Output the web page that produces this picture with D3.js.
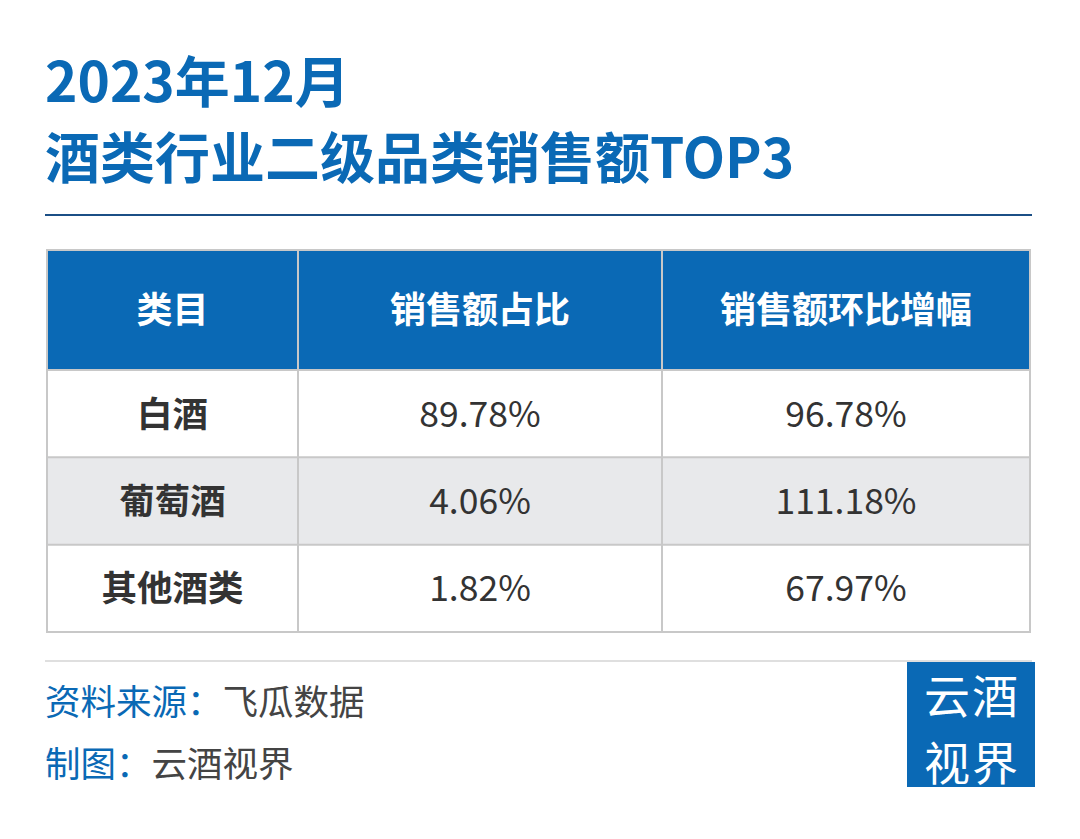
<!DOCTYPE html>
<html><head><meta charset="utf-8">
<script src="https://cdn.jsdelivr.net/npm/d3@7"></script>
<style>body{margin:0;background:#fff}</style></head>
<body><svg id="c" width="1080" height="839"></svg>
<script>
const headers = ["类目", "销售额占比", "销售额环比增幅"];
const categories = ["白酒", "葡萄酒", "其他酒类"];
const shareValues = ["89.78%", "4.06%", "1.82%"];
const growthValues = ["96.78%", "111.18%", "67.97%"];
const logoLines = ["云酒", "视界"];

const svg = d3.select("#c");
const F = "'Noto Sans CJK SC','Noto Sans',sans-serif";
const blue = "#0a69b5";

svg.append("text").attr("x",45).attr("y",102).attr("font-family",F).attr("font-weight",700)
  .attr("font-size",55).attr("fill",blue).text("2023年12月");
svg.append("text").attr("x",45).attr("y",178).attr("font-family",F).attr("font-weight",700)
  .attr("font-size",55).attr("fill",blue).text("酒类行业二级品类销售额TOP3");
svg.append("line").attr("x1",45).attr("x2",1032).attr("y1",215).attr("y2",215)
  .attr("stroke","#1b4f86").attr("stroke-width",2);

const colEdges = [47, 298, 662, 1030];
const headerTop = 250, headerBot = 370;
const y = d3.scaleBand().domain(categories).range([370, 632]).padding(0);

svg.append("rect").attr("x",47).attr("y",headerTop).attr("width",983).attr("height",headerBot-headerTop).attr("fill",blue);
headers.forEach((h,i)=>{
  svg.append("text").attr("x",(colEdges[i]+colEdges[i+1])/2).attr("y",(headerTop+headerBot)/2+13)
    .attr("text-anchor","middle").attr("font-family",F).attr("font-weight",700).attr("font-size",36)
    .attr("fill","#fff").text(h);
});
categories.forEach((c,r)=>{
  const yy = y(c), h = y.bandwidth();
  svg.append("rect").attr("x",47).attr("y",yy).attr("width",983).attr("height",h)
    .attr("fill", r===1 ? "#e8e9eb" : "#fff");
  const vals = [c, shareValues[r], growthValues[r]];
  vals.forEach((v,i)=>{
    svg.append("text").attr("x",(colEdges[i]+colEdges[i+1])/2).attr("y",yy+h/2+13)
      .attr("text-anchor","middle").attr("font-family",F).attr("font-weight",i===0?700:400)
      .attr("font-size",35.5).attr("fill","#333").text(v);
  });
});
const g = svg.append("g").attr("stroke","#c8c8c8").attr("stroke-width",2).attr("fill","none");
g.append("rect").attr("x",47).attr("y",headerTop).attr("width",983).attr("height",632-headerTop);
colEdges.slice(1,3).forEach(cx=>g.append("line").attr("x1",cx).attr("x2",cx).attr("y1",headerTop).attr("y2",632));
categories.forEach(c=>g.append("line").attr("x1",47).attr("x2",1030).attr("y1",y(c)).attr("y2",y(c)));

svg.append("line").attr("x1",45).attr("x2",1032).attr("y1",661).attr("y2",661).attr("stroke","#d5d5d5").attr("stroke-width",1.5);
const f1 = svg.append("text").attr("x",45).attr("y",715).attr("font-family",F).attr("font-size",35.5);
f1.append("tspan").attr("fill",blue).text("资料来源：");
f1.append("tspan").attr("fill","#444").text("飞瓜数据");
const f2 = svg.append("text").attr("x",45).attr("y",777).attr("font-family",F).attr("font-size",35.5);
f2.append("tspan").attr("fill",blue).text("制图：");
f2.append("tspan").attr("fill","#444").text("云酒视界");

svg.append("rect").attr("x",907).attr("y",662).attr("width",128).attr("height",125).attr("fill",blue);
const logo = svg.append("text").attr("text-anchor","middle").attr("font-family",F)
  .attr("font-size",46).attr("fill","#fff").attr("letter-spacing",2);
logoLines.forEach((t,i)=>logo.append("tspan").attr("x",972).attr("y",713+i*67).text(t));
</script></body></html>
